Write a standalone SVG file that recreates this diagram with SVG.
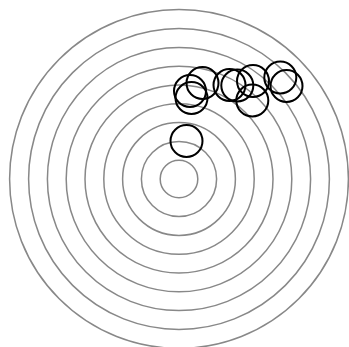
<svg xmlns="http://www.w3.org/2000/svg" width="349" height="347" viewBox="0 0 349 347">
<style>
.ring{fill:none;stroke:#888;stroke-width:1.5}
.pt{fill:none;stroke:#000;stroke-width:2}
</style>
<rect width="349" height="347" fill="#fff"/>
<g id="rings">
<circle class="ring" cx="179" cy="179" r="18.8"/>
<circle class="ring" cx="179" cy="179" r="37.6"/>
<circle class="ring" cx="179" cy="179" r="56.4"/>
<circle class="ring" cx="179" cy="179" r="75.2"/>
<circle class="ring" cx="179" cy="179" r="94"/>
<circle class="ring" cx="179" cy="179" r="112.8"/>
<circle class="ring" cx="179" cy="179" r="131.6"/>
<circle class="ring" cx="179" cy="179" r="150.4"/>
<circle class="ring" cx="179" cy="179" r="169.4"/>
</g>
<g id="points">
<circle id="p1" class="pt" cx="186.5" cy="141" r="16"/>
<circle id="p2" class="pt" cx="190" cy="91" r="16"/>
<circle id="p3" class="pt" cx="191.5" cy="98" r="16"/>
<circle id="p4" class="pt" cx="202.5" cy="83" r="16"/>
<circle id="p5" class="pt" cx="229.5" cy="85" r="16"/>
<circle id="p6" class="pt" cx="237.3" cy="85.5" r="16"/>
<circle id="p7" class="pt" cx="253" cy="81" r="16"/>
<circle id="p8" class="pt" cx="252.3" cy="100.5" r="16"/>
<circle id="p9" class="pt" cx="280.3" cy="77.5" r="16"/>
<circle id="p10" class="pt" cx="286.5" cy="86" r="16"/>
</g>
</svg>
